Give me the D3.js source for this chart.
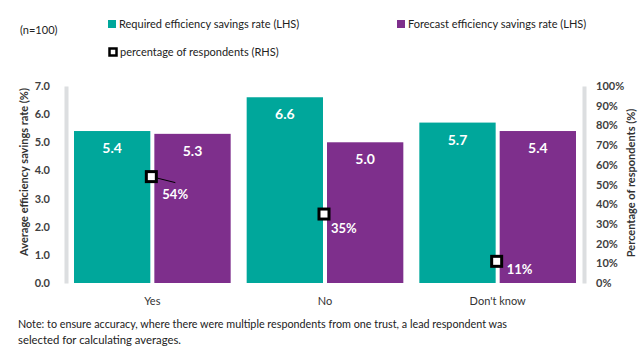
<!DOCTYPE html>
<html>
<head lang="en">
    <meta charset="UTF-8">
    <title></title>
    <script src="https://cdn.jsdelivr.net/npm/d3@7/dist/d3.min.js"></script>
    <style>
        body{margin:0;background:#fff;}
        text{font-family:Lato,sans-serif;}
    </style>
</head>
<body>
</body>
</html>
<script>
    var categories=["Yes","No","Don't know"];
    var seriesNames=["Required efficiency savings rate (LHS)","Forecast efficiency savings rate (LHS)"];
    var required=[5.4,6.6,5.7];
    var forecast=[5.3,5.0,5.4];
    var respondents=[0.54,0.35,0.11];
    var leftTicks=[0,1,2,3,4,5,6,7];
    var rightTicks=[0,0.1,0.2,0.3,0.4,0.5,0.6,0.7,0.8,0.9,1];
    var colors=["#00a79b","#7e2f8c"];

    var W=640,H=352;
    var pLeft=66,pRight=584,pTop=86,pBottom=283;

    var svg=d3.select('body').append('svg')
            .attr('width',W).attr('height',H);

    var x0=d3.scaleBand().domain(categories).range([pLeft,pRight]);
    var x1=d3.scaleBand().domain([0,1]).range([8,x0.bandwidth()-8]).paddingInner(0.05);
    var yL=d3.scaleLinear().domain([0,7]).range([pBottom,pTop]);
    var yR=d3.scaleLinear().domain([0,1]).range([pBottom,pTop]);

    // axes
    var axL=svg.append('g').attr('transform','translate('+pLeft+',0)')
            .call(d3.axisLeft(yL).tickValues(leftTicks).tickFormat(d3.format('.1f')).tickSize(0).tickPadding(16));
    var axR=svg.append('g').attr('transform','translate('+pRight+',0)')
            .call(d3.axisRight(yR).tickValues(rightTicks).tickFormat(d3.format('.0%')).tickSize(0).tickPadding(12));
    [axL,axR].forEach(function(a){
        a.select('.domain').attr('stroke','#dcdee0').attr('stroke-width',4);
        a.selectAll('text').attr('font-size',11).attr('font-weight','bold').attr('fill','#404040')
                .style('font-family','Lato,sans-serif');
    });

    svg.append('text').attr('transform','translate(25,172) rotate(-90)')
            .attr('text-anchor','middle').attr('dominant-baseline','middle').attr('font-size',11).attr('font-weight','bold').attr('fill','#333')
            .text('Average efficiency savings rate (%)');
    svg.append('text').attr('transform','translate(632,183) rotate(-90)')
            .attr('text-anchor','middle').attr('dominant-baseline','middle').attr('font-size',11).attr('font-weight','bold').attr('fill','#333')
            .text('Percentage of respondents (%)');

    // bars
    var groups=svg.selectAll('.grp').data(categories).enter().append('g')
            .attr('class','grp')
            .attr('transform',function(d){return 'translate('+x0(d)+',0)';});
    groups.selectAll('rect').data(function(d,i){return [required[i],forecast[i]];})
            .enter().append('rect')
            .attr('x',function(d,j){return x1(j);})
            .attr('width',x1.bandwidth())
            .attr('y',function(d){return yL(d);})
            .attr('height',function(d){return pBottom-yL(d);})
            .attr('fill',function(d,j){return colors[j];});
    groups.selectAll('.val').data(function(d,i){return [required[i],forecast[i]];})
            .enter().append('text')
            .attr('class','val')
            .attr('x',function(d,j){return x1(j)+x1.bandwidth()/2;})
            .attr('y',function(d){return yL(d)+22;})
            .attr('text-anchor','middle').attr('font-size',14).attr('font-weight','bold').attr('fill','#fff')
            .text(function(d){return d.toFixed(1);});

    // respondents markers
    var offs=[[11,22],[7,19],[10,13]];
    var cx=function(i){return x0(categories[i])+x0.bandwidth()/2-1;};
    svg.append('line')
            .attr('x1',cx(0)).attr('y1',yR(respondents[0]))
            .attr('x2',cx(0)+24).attr('y2',yR(respondents[0])+6)
            .attr('stroke','#000').attr('stroke-width',1);
    svg.selectAll('.mk').data(respondents).enter().append('rect')
            .attr('class','mk')
            .attr('x',function(d,i){return cx(i)-5;})
            .attr('y',function(d){return yR(d)-5;})
            .attr('width',10).attr('height',10)
            .attr('fill','#fff').attr('stroke','#000').attr('stroke-width',3);
    svg.selectAll('.pl').data(respondents).enter().append('text')
            .attr('class','pl')
            .attr('x',function(d,i){return cx(i)+offs[i][0];})
            .attr('y',function(d,i){return yR(d)+offs[i][1];})
            .attr('font-size',13).attr('font-weight','bold').attr('fill','#fff')
            .text(function(d){return d3.format('.0%')(d);});

    // category labels
    svg.selectAll('.cat').data(categories).enter().append('text')
            .attr('class','cat')
            .attr('x',function(d){return x0(d)+x0.bandwidth()/2;})
            .attr('y',305)
            .attr('text-anchor','middle').attr('font-size',11).attr('fill','#333')
            .text(function(d){return d;});

    // legend
    svg.append('text').attr('x',20).attr('y',34).attr('font-size',11).attr('fill','#222').text('(n=100)');
    var leg=[{x:108,y:24,c:colors[0],t:seriesNames[0]},{x:397,y:24,c:colors[1],t:seriesNames[1]}];
    leg.forEach(function(l){
        svg.append('rect').attr('x',l.x).attr('y',l.y-4).attr('width',8).attr('height',8).attr('fill',l.c);
        svg.append('text').attr('x',l.x+11).attr('y',l.y+4).attr('font-size',11).attr('fill','#222').text(l.t);
    });
    svg.append('rect').attr('x',109.5).attr('y',48.5).attr('width',7).attr('height',7)
            .attr('fill','#fff').attr('stroke','#000').attr('stroke-width',2.5);
    svg.append('text').attr('x',120).attr('y',56).attr('font-size',11).attr('fill','#222').text('percentage of respondents (RHS)');

    // note
    svg.append('text').attr('x',18).attr('y',328).attr('font-size',12).attr('fill','#222')
            .attr('textLength',489).attr('lengthAdjust','spacingAndGlyphs')
            .text('Note: to ensure accuracy, where there were multiple respondents from one trust, a lead respondent was');
    svg.append('text').attr('x',18).attr('y',344).attr('font-size',12).attr('fill','#222')
            .attr('textLength',163).attr('lengthAdjust','spacingAndGlyphs')
            .text('selected for calculating averages.');
</script>
